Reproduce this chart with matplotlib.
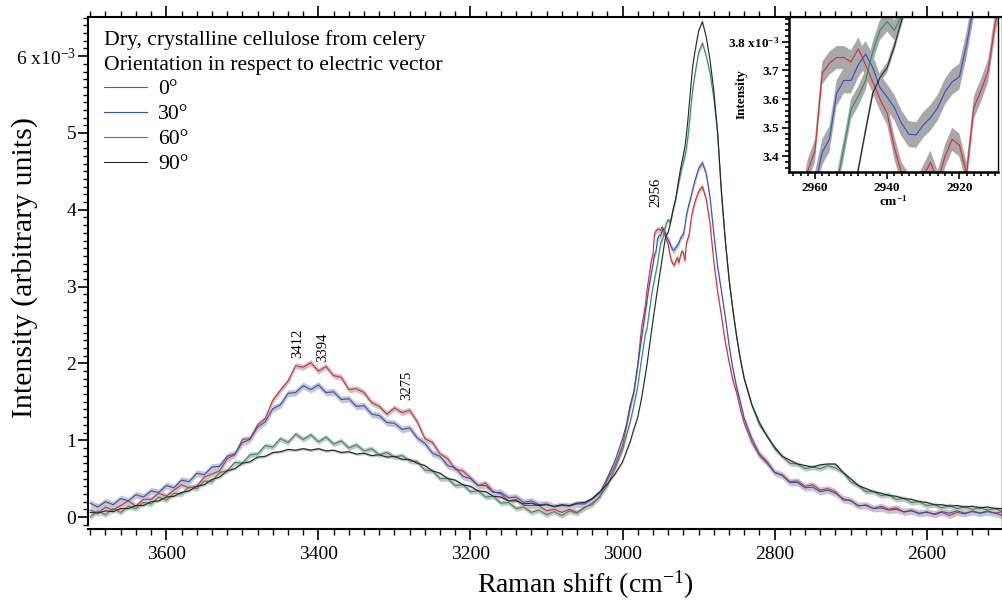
import numpy as np
import matplotlib
matplotlib.use("Agg")
import matplotlib.pyplot as plt
from matplotlib.ticker import MultipleLocator, FixedLocator, FuncFormatter

plt.rcParams['font.family'] = ['Liberation Serif', 'DejaVu Serif']
plt.rcParams['mathtext.fontset'] = 'custom'
plt.rcParams['mathtext.rm'] = 'Liberation Serif'
plt.rcParams['mathtext.it'] = 'Liberation Serif:italic'
plt.rcParams['mathtext.bf'] = 'Liberation Serif:bold'

# Raman shift grid (cm^-1): coarse in the broad regions, finer across the CH band
wavenumber = np.concatenate([
    np.arange(3700, 3000, -10),   # OH region
    np.arange(3000, 2969, -5),    # rising edge
    np.arange(2968, 2907, -2),    # CH shoulder
    np.arange(2905, 2844, -5),    # CH peak
    np.arange(2840, 2499, -10),   # tail
])

# Intensities in units of 1e-3
int_0deg = [
    0.09, 0.05, 0.13, 0.09, 0.15, 0.21, 0.14, 0.23, 0.23, 0.31,
    0.27, 0.35, 0.42, 0.38, 0.40, 0.52, 0.56, 0.60, 0.76, 0.81,
    1.01, 1.02, 1.20, 1.28, 1.52, 1.65, 1.77, 1.97, 1.95, 2.01,
    1.90, 1.96, 1.84, 1.82, 1.66, 1.67, 1.62, 1.49, 1.44, 1.34,
    1.42, 1.36, 1.39, 1.24, 1.02, 0.97, 0.82, 0.76, 0.62, 0.60,
    0.51, 0.41, 0.44, 0.33, 0.30, 0.21, 0.23, 0.15, 0.15, 0.15,
    0.08, 0.10, 0.06, 0.10, 0.06, 0.12, 0.18, 0.26, 0.48, 0.67,
    0.93, 1.17, 1.42, 1.63, 1.98, 2.47, 2.76,
    2.95, 3.08, 3.22, 3.35, 3.42, 3.69, 3.725, 3.745, 3.745, 3.73,
    3.775, 3.72, 3.66, 3.60, 3.55, 3.43, 3.34, 3.30, 3.28, 3.33,
    3.38, 3.31, 3.40, 3.46, 3.44, 3.34, 3.57, 3.63, 3.70, 3.87, 3.98,
    4.10, 4.24, 4.30, 4.14, 3.82, 3.32, 2.93, 2.62, 2.28, 2.02, 1.78, 1.62, 1.40,
    1.22, 0.97, 0.80, 0.70, 0.58, 0.55, 0.46, 0.47, 0.40, 0.42,
    0.35, 0.37, 0.33, 0.22, 0.22, 0.14, 0.16, 0.11, 0.14, 0.10,
    0.12, 0.06, 0.09, 0.04, 0.07, 0.03, 0.06, 0.02, 0.06, 0.04,
    0.08, 0.05, 0.08, 0.05, 0.07,
]
int_30deg = [
    0.18, 0.13, 0.20, 0.16, 0.24, 0.21, 0.29, 0.26, 0.34, 0.32,
    0.41, 0.38, 0.48, 0.46, 0.57, 0.55, 0.65, 0.66, 0.79, 0.82,
    0.97, 1.01, 1.17, 1.24, 1.41, 1.46, 1.61, 1.62, 1.71, 1.66,
    1.72, 1.62, 1.63, 1.53, 1.54, 1.44, 1.45, 1.34, 1.32, 1.23,
    1.22, 1.14, 1.16, 1.03, 0.96, 0.83, 0.79, 0.67, 0.64, 0.53,
    0.50, 0.41, 0.41, 0.32, 0.32, 0.25, 0.26, 0.19, 0.21, 0.16,
    0.17, 0.13, 0.15, 0.14, 0.17, 0.17, 0.23, 0.31, 0.51, 0.73,
    1.02, 1.20, 1.46, 1.64, 1.99, 2.33, 2.66,
    2.80, 2.95, 3.07, 3.18, 3.30, 3.415, 3.46, 3.62, 3.665, 3.665,
    3.72, 3.757, 3.71, 3.64, 3.607, 3.57, 3.515, 3.478, 3.475, 3.51,
    3.535, 3.57, 3.625, 3.66, 3.678, 3.79, 3.93, 4.02, 4.10, 4.17, 4.26,
    4.37, 4.54, 4.61, 4.47, 4.16, 3.69, 3.26, 2.94, 2.61, 2.24, 1.93, 1.69, 1.49,
    1.28, 1.02, 0.82, 0.72, 0.58, 0.54, 0.45, 0.45, 0.38, 0.39,
    0.33, 0.35, 0.31, 0.24, 0.21, 0.15, 0.15, 0.11, 0.12, 0.09,
    0.10, 0.07, 0.08, 0.05, 0.06, 0.04, 0.07, 0.05, 0.08, 0.05,
    0.07, 0.05, 0.07, 0.05, 0.02,
]
int_60deg = [
    0.00, 0.08, 0.03, 0.11, 0.06, 0.14, 0.11, 0.19, 0.17, 0.26,
    0.22, 0.31, 0.30, 0.39, 0.37, 0.47, 0.46, 0.58, 0.60, 0.71,
    0.70, 0.81, 0.82, 0.93, 0.91, 1.02, 0.97, 1.08, 1.01, 1.07,
    0.98, 1.04, 0.95, 0.99, 0.90, 0.94, 0.86, 0.89, 0.81, 0.84,
    0.78, 0.80, 0.73, 0.72, 0.61, 0.60, 0.50, 0.50, 0.41, 0.42,
    0.33, 0.34, 0.26, 0.27, 0.18, 0.19, 0.11, 0.13, 0.06, 0.09,
    0.03, 0.07, 0.02, 0.08, 0.05, 0.13, 0.16, 0.27, 0.41, 0.63,
    0.88, 1.06, 1.24, 1.46, 1.71, 2.06, 2.39,
    2.45, 2.60, 2.74, 2.88, 3.00, 3.10, 3.20, 3.30, 3.43, 3.565,
    3.61, 3.665, 3.765, 3.84, 3.87, 3.84, 3.89, 3.98, 4.06, 4.14,
    4.25, 4.36, 4.45, 4.55, 4.62, 4.70, 4.80, 4.95, 5.15, 5.35, 5.55,
    5.75, 6.05, 6.17, 6.00, 5.78, 5.45, 5.00, 4.20, 3.60, 3.10, 2.70, 2.35, 2.05,
    1.80, 1.46, 1.20, 1.06, 0.89, 0.79, 0.70, 0.69, 0.63, 0.65,
    0.63, 0.67, 0.64, 0.58, 0.46, 0.41, 0.33, 0.33, 0.28, 0.29,
    0.23, 0.24, 0.19, 0.20, 0.15, 0.16, 0.12, 0.15, 0.11, 0.13,
    0.10, 0.12, 0.09, 0.11, 0.07,
]
int_90deg = [
    0.06, 0.05, 0.08, 0.07, 0.11, 0.11, 0.15, 0.15, 0.20, 0.21,
    0.26, 0.27, 0.32, 0.34, 0.40, 0.42, 0.49, 0.52, 0.60, 0.63,
    0.70, 0.72, 0.78, 0.79, 0.84, 0.85, 0.88, 0.87, 0.89, 0.87,
    0.89, 0.86, 0.87, 0.84, 0.85, 0.82, 0.83, 0.80, 0.81, 0.78,
    0.79, 0.75, 0.75, 0.70, 0.67, 0.60, 0.57, 0.50, 0.48, 0.42,
    0.40, 0.34, 0.33, 0.27, 0.26, 0.21, 0.21, 0.17, 0.18, 0.15,
    0.16, 0.14, 0.16, 0.15, 0.18, 0.19, 0.24, 0.33, 0.43, 0.56,
    0.72, 0.85, 0.98, 1.15, 1.30, 1.55, 1.85,
    1.98, 2.12, 2.27, 2.42, 2.56, 2.70, 2.84, 2.97, 3.10, 3.23,
    3.355, 3.49, 3.62, 3.675, 3.71, 3.785, 3.875, 3.98, 4.07, 4.15,
    4.28, 4.40, 4.52, 4.62, 4.72, 4.82, 4.98, 5.18, 5.40, 5.62, 5.85,
    6.05, 6.33, 6.45, 6.25, 5.95, 5.55, 5.00, 4.25, 3.62, 3.10, 2.70, 2.35, 2.05,
    1.80, 1.46, 1.23, 1.05, 0.91, 0.79, 0.74, 0.69, 0.67, 0.65,
    0.68, 0.69, 0.69, 0.58, 0.50, 0.41, 0.37, 0.33, 0.31, 0.28,
    0.27, 0.24, 0.23, 0.20, 0.19, 0.16, 0.16, 0.14, 0.15, 0.13,
    0.14, 0.12, 0.13, 0.11, 0.11,
]

angle_labels = ['0°', '30°', '60°', '90°']
spectra = [int_0deg, int_30deg, int_60deg, int_90deg]
# half-width of the measurement uncertainty band, 1e-3 units
band_halfwidth = [0.040, 0.045, 0.035, 0.018]
colors = ['#e8262b', '#2b4fd6', '#23965a', '#262626']

peak_labels = ['3412', '3394', '3275', '2956']
peak_positions = [3412, 3394, 3275, 2956]
peak_label_base = [2.07, 2.02, 1.52, 4.04]
peak_label_dx = [-8.5, 0.0, -4.5, 0.0]   # points

W, H = 1003, 605
fig = plt.figure(figsize=(W / 100, H / 100), dpi=100)
ax = fig.add_axes([88 / W, 1 - 525 / H, 914 / W, 508 / H])

for y, hw, c, lab in zip(spectra, band_halfwidth, colors, angle_labels):
    y = np.asarray(y)
    ax.fill_between(wavenumber, y - hw, y + hw, color='#c6c6c6', lw=0)
    ax.plot(wavenumber, y, color=c, lw=0.8, label=lab)

ax.set_xlim(3703, 2501)
ax.set_ylim(-0.104, 6.51)

ax.xaxis.set_major_locator(MultipleLocator(200))
ax.xaxis.set_minor_locator(MultipleLocator(20))
ax.yaxis.set_major_locator(MultipleLocator(1))
ax.yaxis.set_minor_locator(MultipleLocator(0.1))
ax.yaxis.set_major_formatter(FuncFormatter(
    lambda v, p: '6 x10$^{-3}$' if round(v) == 6 else f'{v:.0f}'))

ax.tick_params(axis='x', which='both', direction='out', top=True,
               labelsize=14, pad=4, width=1.2)
ax.tick_params(axis='x', which='major', length=8)
ax.tick_params(axis='x', which='minor', length=4, width=1.0)
ax.tick_params(axis='y', which='both', direction='out', labelsize=14,
               pad=1.5, width=1.2)
ax.tick_params(axis='y', which='major', length=7)
ax.tick_params(axis='y', which='minor', length=3.5, width=1.0)
for s in ['left', 'top', 'bottom']:
    ax.spines[s].set_linewidth(1.5)
ax.spines['right'].set_linewidth(1.0)
ax.spines['bottom'].set_position(('outward', 3))

ax.set_xlabel('Raman shift (cm$^{-1}$)', fontsize=20)
ax.set_ylabel('Intensity (arbitrary units)', fontsize=21.5)
ax.xaxis.set_label_coords((585 - 88) / 914, (525 - 585) / 508)
ax.yaxis.set_label_coords((25 - 88) / 914, (525 - 267) / 508)
ax.xaxis.label.set_va('center')
ax.yaxis.label.set_va('center')

for txt, xp, yb, dx in zip(peak_labels, peak_positions, peak_label_base, peak_label_dx):
    ax.annotate(txt, xy=(xp, yb), xytext=(dx, 0), textcoords='offset points',
                rotation=90, ha='center', va='bottom', fontsize=10.5)

leg = ax.legend(title='Dry, crystalline cellulose from celery\n'
                      'Orientation in respect to electric vector',
                loc='upper left', bbox_to_anchor=((104 - 88) / 914, (525 - 30) / 508),
                frameon=False, fontsize=15.6, title_fontsize=15.6, alignment='left',
                borderpad=0, borderaxespad=0, labelspacing=0.22,
                handlelength=2.0, handletextpad=0.5)
leg.get_title().set_linespacing(1.4)

# Inset: close-up of the 2956 shoulder
axi = fig.add_axes([789 / W, 1 - 172 / H, 209 / W, 155 / H])
axi.set_facecolor('white')
for y, hw, c in zip(spectra, band_halfwidth, colors):
    y = np.asarray(y)
    axi.fill_between(wavenumber, y - hw, y + hw, color='#a8a8a8', lw=0)
    axi.plot(wavenumber, y, color=c, lw=0.8)
axi.set_xlim(2967.2, 2909.3)
axi.set_ylim(3.346, 3.886)
axi.xaxis.set_major_locator(FixedLocator([2960, 2940, 2920]))
axi.xaxis.set_minor_locator(MultipleLocator(2))
axi.yaxis.set_major_locator(MultipleLocator(0.1))
axi.yaxis.set_minor_locator(MultipleLocator(0.02))
axi.yaxis.set_major_formatter(FuncFormatter(
    lambda v, p: r'3.8 x10$^{\mathbf{-3}}$' if abs(v - 3.8) < 1e-6 else f'{v:.1f}'))
axi.tick_params(which='both', direction='out', labelsize=9.5, width=1.2, pad=2)
axi.tick_params(which='major', length=5)
axi.tick_params(which='minor', length=3)
for lbl in axi.get_xticklabels() + axi.get_yticklabels():
    lbl.set_fontweight('bold')
for s in ['left', 'bottom']:
    axi.spines[s].set_linewidth(1.8)
for s in ['top', 'right']:
    axi.spines[s].set_linewidth(1.0)
axi.set_ylabel('Intensity', fontsize=9.5, fontweight='bold')
axi.yaxis.set_label_coords((748 - 789) / 209, 0.5)
axi.set_xlabel(r'cm$^{\mathbf{-1}}$', fontsize=9.5, fontweight='bold', labelpad=0)

fig.savefig('out.png', dpi=100)
